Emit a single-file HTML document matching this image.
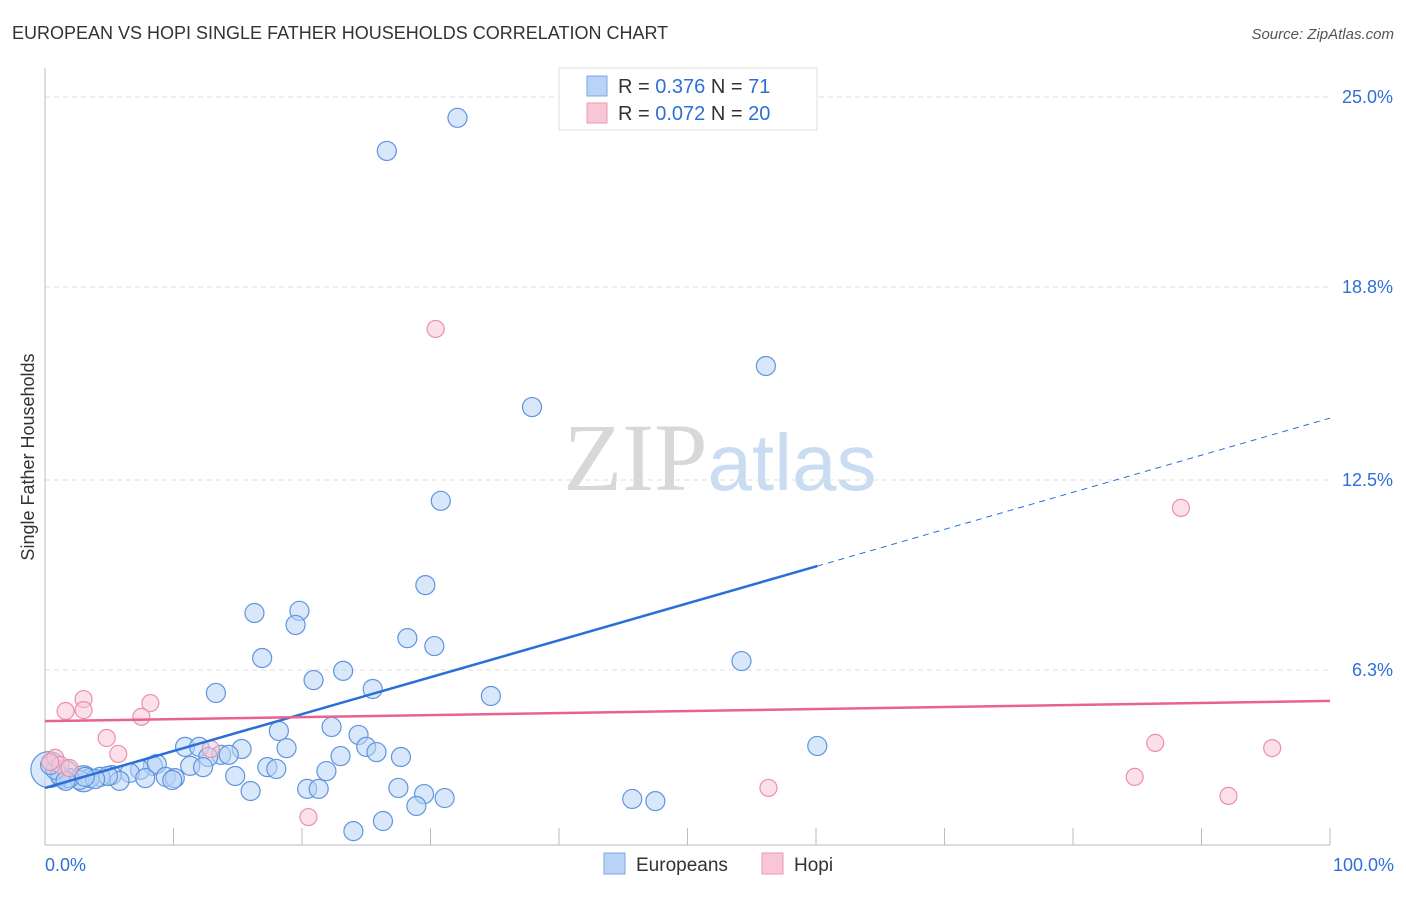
<!DOCTYPE html>
<html><head><meta charset="utf-8"><style>
body{margin:0;background:#fff;font-family:"Liberation Sans",sans-serif}
svg text{font-family:"Liberation Sans",sans-serif}
</style></head><body>
<svg id="chart" width="1406" height="892" xmlns="http://www.w3.org/2000/svg">
<text x="12" y="39" font-size="18" fill="#333">EUROPEAN VS HOPI SINGLE FATHER HOUSEHOLDS CORRELATION CHART</text>
<text x="1394" y="39" font-size="15" fill="#555" text-anchor="end" font-style="italic">Source: ZipAtlas.com</text>
<text x="720" y="490" font-size="96" text-anchor="middle" fill="#ddd"><tspan font-family="Liberation Serif" fill="#d8d8d8">ZIP</tspan><tspan fill="#c9dcf2" font-size="80">atlas</tspan></text>
<g id="grid"></g>
<g id="axes"></g>
<g id="marks"></g>
<text transform="translate(34,457) rotate(-90)" font-size="18" fill="#333" text-anchor="middle">Single Father Households</text>
<g>
<rect x="559" y="68" width="258" height="62" fill="#fff" stroke="#ddd"/>
<rect x="587" y="76" width="20" height="20" fill="#b8d3f5" stroke="#7aa7e3"/>
<rect x="587" y="103" width="20" height="20" fill="#f8c6d5" stroke="#ee9ab3"/>
<text x="618" y="93" font-size="20" fill="#333">R = <tspan fill="#2f6fd6">0.376</tspan>   N = <tspan fill="#2f6fd6">71</tspan></text>
<text x="618" y="120" font-size="20" fill="#333">R = <tspan fill="#2f6fd6">0.072</tspan>   N = <tspan fill="#2f6fd6">20</tspan></text>
</g>
<g>
<rect x="604" y="853" width="21" height="21" fill="#b8d3f5" stroke="#7aa7e3"/>
<text x="636" y="871" font-size="19" fill="#333">Europeans</text>
<rect x="762" y="853" width="21" height="21" fill="#f8c6d5" stroke="#ee9ab3"/>
<text x="794" y="871" font-size="19" fill="#333">Hopi</text>
</g>
</svg>
<script>
const yTicks=[6.3,12.5,18.8,25.0];
const yTickLabels=["6.3%","12.5%","18.8%","25.0%"];
const xTickLabels=["0.0%","100.0%"];
const blueX=[32.1,26.6,56.1,37.9,30.8,29.6,16.3,19.8,19.5,28.2,30.3,16.9,54.2,23.2,20.9,13.3,25.5,34.7,18.2,22.3,24.4,10.9,15.3,12.0,18.8,60.1,25.0,25.8,23.0,27.7,13.7,12.7,14.3,17.3,18.0,21.9,8.4,11.3,12.3,7.4,8.7,14.8,9.4,10.1,6.6,5.2,5.8,4.3,3.5,2.7,1.9,1.2,0.8,0.4,27.5,16.0,20.4,21.3,29.5,31.1,28.9,45.7,47.5,26.3,24.0,7.8,9.9,4.9,3.9,3.1,1.6];
const blueY=[24.32,23.24,16.22,14.88,11.82,9.07,8.16,8.23,7.77,7.34,7.08,6.69,6.59,6.27,5.97,5.55,5.68,5.45,4.31,4.44,4.18,3.79,3.72,3.79,3.75,3.82,3.79,3.62,3.49,3.46,3.53,3.46,3.53,3.13,3.07,3.00,3.17,3.17,3.13,3.04,3.23,2.84,2.81,2.77,2.94,2.87,2.68,2.81,2.77,2.71,2.77,2.84,3.04,3.20,2.45,2.35,2.42,2.42,2.25,2.12,1.86,2.09,2.02,1.37,1.04,2.77,2.71,2.84,2.74,2.81,2.68];
const bigX=[0.3,1.5,3.0];
const bigY=[3.05,2.9,2.75];
const bigR=[18,14,13];
const pinkX=[30.4,88.4,3.0,3.0,1.6,8.2,7.5,4.8,5.7,12.9,86.4,95.5,84.8,56.3,92.1,20.5,0.8,1.2,1.9,0.4];
const pinkY=[17.43,11.59,5.35,4.99,4.96,5.22,4.77,4.08,3.56,3.72,3.92,3.75,2.81,2.45,2.19,1.50,3.43,3.20,3.10,3.30];
const blueTrend=[2.45,9.69,14.52]; // at x=0, 60.1, 100
const blueTrendX=[0,60.1,100];
const pinkTrend=[4.63,5.29];
const X=v=>45+v*12.85;
const Y=v=>863-v*30.64;
const NS="http://www.w3.org/2000/svg";
function mk(parent,tag,attrs){const e=document.createElementNS(NS,tag);for(const k in attrs)e.setAttribute(k,attrs[k]);document.getElementById(parent).appendChild(e);return e;}
yTicks.forEach((t,i)=>{
  const l=mk('grid','line',{x1:45,x2:1330,y1:Y(t),y2:Y(t),stroke:'#ddd','stroke-dasharray':'5,4'});
  
  
  const tx=mk('grid','text',{x:1393,y:Y(t)+6,'font-size':18,fill:'#2f6fd6','text-anchor':'end'});
  tx.textContent=yTickLabels[i];
  
  
});
let ax=mk('axes','line',{x1:45,x2:45,y1:68,y2:845,stroke:'#bbb'});


ax=mk('axes','line',{x1:45,x2:1330,y1:845,y2:845,stroke:'#bbb'});


for(let i=1;i<=10;i++){const t=mk('axes','line',{x1:X(i*10),x2:X(i*10),y1:828,y2:845,stroke:'#bbb'});

}
[[0,'start',45],[100,'end',1394]].forEach((d,i)=>{const t=mk('axes','text',{x:d[2],y:871,'font-size':18,fill:'#2f6fd6','text-anchor':d[1]});t.textContent=xTickLabels[i];

});
function dot(x,y,r,fill,stroke,name){const c=mk('marks','circle',{cx:X(x),cy:Y(y),r:r,fill:fill,'fill-opacity':0.55,stroke:stroke,'stroke-width':1.2});

}
bigX.forEach((x,i)=>dot(x,bigY[i],bigR[i],'#b8d3f5','#5f95dd','european-point'));
blueX.forEach((x,i)=>dot(x,blueY[i],9.5,'#b8d3f5','#5f95dd','european-point'));
pinkX.forEach((x,i)=>dot(x,pinkY[i],8.5,'#f8c6d5','#ec8fae','hopi-point'));
let ln=mk('marks','line',{x1:X(blueTrendX[0]),y1:Y(blueTrend[0]),x2:X(blueTrendX[1]),y2:Y(blueTrend[1]),stroke:'#2a6fd8','stroke-width':2.5});


ln=mk('marks','line',{x1:X(blueTrendX[1]),y1:Y(blueTrend[1]),x2:X(blueTrendX[2]),y2:Y(blueTrend[2]),stroke:'#2a6fd8','stroke-width':1,'stroke-dasharray':'6,5'});


ln=mk('marks','line',{x1:X(0),y1:Y(pinkTrend[0]),x2:X(100),y2:Y(pinkTrend[1]),stroke:'#e8628f','stroke-width':2.5});


</script>
</body></html>
